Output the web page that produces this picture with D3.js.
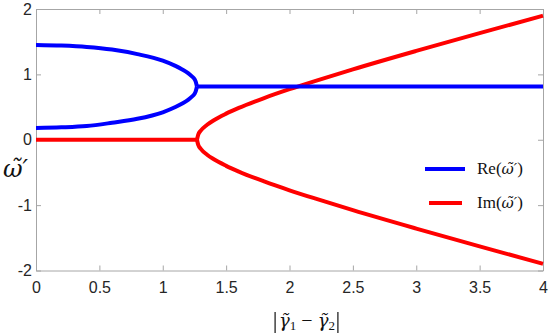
<!DOCTYPE html>
<html>
<head>
<meta charset="utf-8">
<script src="https://cdn.jsdelivr.net/npm/d3@7"></script>
<style>
  body { margin: 0; background: #fff; }
  svg { display: block; }
</style>
</head>
<body>
<div id="chart"></div>
<script>
// values
const xTicks = [0, 0.5, 1, 1.5, 2, 2.5, 3, 3.5, 4];
const yTicks = [-2, -1, 0, 1, 2];

// Re, before the split point (two branches)
const reX = [0, 0.2, 0.4, 0.6, 0.8, 1.0, 1.1, 1.15, 1.2, 1.23, 1.25, 1.26, 1.27];
const reUpper = [1.45, 1.44, 1.42, 1.38, 1.31, 1.21, 1.13, 1.08, 1.02, 0.97, 0.93, 0.89, 0.815];
const reLower = [0.18, 0.19, 0.21, 0.26, 0.32, 0.42, 0.50, 0.55, 0.61, 0.66, 0.70, 0.74, 0.815];
// Re, after the split point (one flat line)
const reFlatX = [1.27, 4];
const reFlat = [0.815, 0.815];

// Im, before split (flat at zero) and after (two branches)
const imFlatX = [0, 1.27];
const imFlat = [0, 0];
const imX = [1.27, 1.28, 1.3, 1.35, 1.4, 1.5, 1.6, 1.8, 2.0, 2.2, 2.5, 3.0, 3.5, 4.0];
const imUpper = [0, 0.08, 0.139, 0.229, 0.295, 0.399, 0.487, 0.638, 0.773, 0.898, 1.077, 1.359, 1.631, 1.897];
const imLower = imUpper.map(v => -v);

var margin = {top: 9, right: 7, bottom: 64.5, left: 36};
var W = 550, H = 335;
var width = W - margin.left - margin.right;
var height = H - margin.top - margin.bottom;

var svg = d3.select("#chart").append("svg")
    .attr("width", W)
    .attr("height", H);

var g = svg.append("g")
    .attr("transform", "translate(" + margin.left + "," + margin.top + ")");

var x = d3.scaleLinear().domain([0, 4]).range([0, width]);
var y = d3.scaleLinear().domain([-2, 2]).range([height, 0]);

var axisColor = "#a6a6a6";
var textColor = "#262626";
var numFmt = function(d) { return String(d); };

function styleAxis(sel) {
  sel.select(".domain").attr("stroke", axisColor);
  sel.selectAll(".tick line").attr("stroke", axisColor);
  sel.selectAll(".tick text")
    .attr("fill", textColor)
    .style("font-family", "'Liberation Sans', Arial, sans-serif")
    .style("font-size", "16px");
}

// bottom & left with labels, top & right without
g.append("g")
    .attr("transform", "translate(0," + height + ")")
    .call(d3.axisBottom(x).tickValues(xTicks).tickSize(-5).tickPadding(11).tickSizeOuter(0).tickFormat(numFmt))
    .call(styleAxis);
g.append("g")
    .call(d3.axisLeft(y).tickValues(yTicks).tickSize(-5).tickPadding(4).tickSizeOuter(0).tickFormat(numFmt))
    .call(styleAxis);
g.append("g")
    .call(d3.axisTop(x).tickValues(xTicks).tickSize(-5).tickSizeOuter(0).tickFormat(""))
    .call(styleAxis);
g.append("g")
    .attr("transform", "translate(" + width + ",0)")
    .call(d3.axisRight(y).tickValues(yTicks).tickSize(-5).tickSizeOuter(0).tickFormat(""))
    .call(styleAxis);

var line = d3.line()
    .x(function(d) { return x(d[0]); })
    .y(function(d) { return y(d[1]); })
    .curve(d3.curveMonotoneX);

function pts(xs, ys) { return xs.map(function(v, i) { return [v, ys[i]]; }); }

var series = [
  {pts: pts(imFlatX, imFlat), color: "#ff0000"},
  {pts: pts(imX, imUpper), color: "#ff0000"},
  {pts: pts(imX, imLower), color: "#ff0000"},
  {pts: pts(reX, reUpper), color: "#0000ff"},
  {pts: pts(reX, reLower), color: "#0000ff"},
  {pts: pts(reFlatX, reFlat), color: "#0000ff"}
];

g.selectAll(".curve")
    .data(series)
    .enter().append("path")
    .attr("class", "curve")
    .attr("d", function(d) { return line(d.pts); })
    .attr("fill", "none")
    .attr("stroke", function(d) { return d.color; })
    .attr("stroke-width", 4)
    .attr("stroke-linejoin", "round");

var serif = "'Liberation Serif', 'Times New Roman', serif";
var markFont = "'DejaVu Serif', serif";

// legend
var legend = [
  {name: "Re", color: "#0000ff", y: 169, x1: 425, x2: 465},
  {name: "Im", color: "#ff0000", y: 203, x1: 429, x2: 462}
];
legend.forEach(function(l) {
  svg.append("line")
      .attr("x1", l.x1).attr("x2", l.x2)
      .attr("y1", l.y).attr("y2", l.y)
      .attr("stroke", l.color).attr("stroke-width", 4);
  var t = svg.append("text")
      .attr("x", 477).attr("y", l.y + 5)
      .attr("fill", "#111")
      .style("font-family", serif)
      .style("font-size", "17px");
  t.append("tspan").text(l.name + "(");
  t.append("tspan").style("font-family", markFont).style("font-style", "italic")
      .style("font-size", "15px").text("ω\u0303′");
  t.append("tspan").text(")");
});

// y label
svg.append("text")
    .attr("x", 3).attr("y", 177)
    .attr("fill", "#111")
    .style("font-family", markFont)
    .style("font-style", "italic")
    .style("font-size", "24px")
    .text("ω\u0303′");

// x label
var xl = svg.append("text")
    .attr("x", 307).attr("y", 327)
    .attr("text-anchor", "middle")
    .attr("fill", "#111")
    .style("font-family", serif)
    .style("font-size", "20px");
xl.append("tspan").style("font-family", markFont).style("font-style", "italic")
    .style("font-size", "18px").text("γ\u0303");
xl.append("tspan").style("font-size", "13px").attr("dy", 3).text("1");
xl.append("tspan").attr("dy", -3).text(" − ");
xl.append("tspan").style("font-family", markFont).style("font-style", "italic")
    .style("font-size", "18px").text("γ\u0303");
xl.append("tspan").style("font-size", "13px").attr("dy", 3).text("2");

var bb = xl.node().getBBox();
[bb.x - 4, bb.x + bb.width + 3].forEach(function(bx) {
  svg.append("line")
      .attr("x1", bx).attr("x2", bx)
      .attr("y1", 312).attr("y2", 333)
      .attr("stroke", "#111").attr("stroke-width", 1.2);
});
</script>
</body>
</html>
